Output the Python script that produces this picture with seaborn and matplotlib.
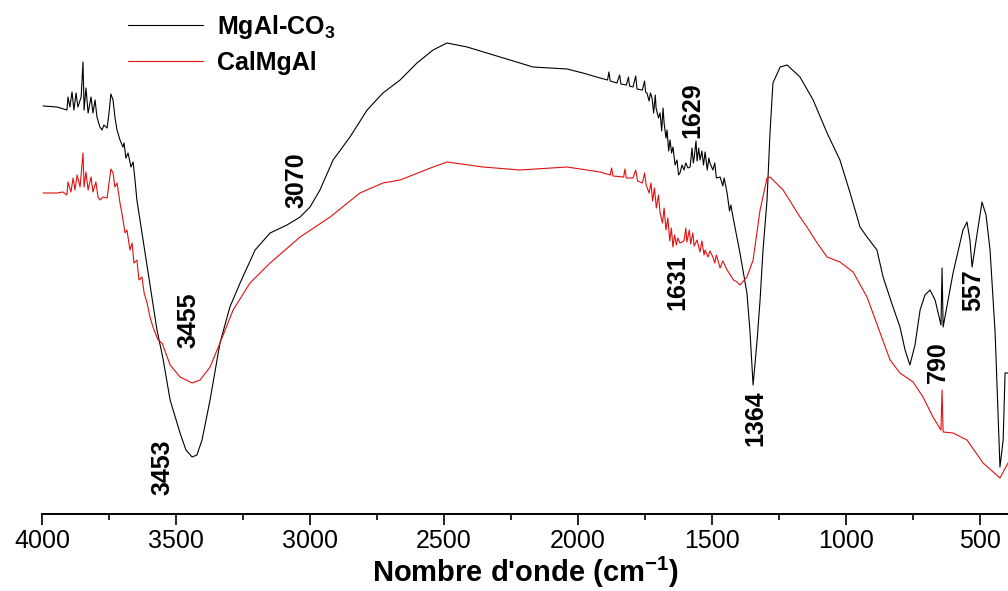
import seaborn as sns
import matplotlib
matplotlib.use("Agg")
import matplotlib.pyplot as plt
import pandas as pd

# FTIR spectra (wavenumber in cm-1, transmittance in a.u.)
mgal_wn = [3996, 3944, 3907, 3903, 3896, 3888, 3881, 3873, 3866, 3854, 3847, 3843, 3836, 3828,
           3817, 3810, 3802, 3795, 3784, 3776, 3769, 3757, 3750, 3743, 3735, 3728, 3720, 3709,
           3698, 3694, 3687, 3679, 3668, 3660, 3653, 3646, 3623, 3597, 3571, 3549, 3522, 3485,
           3463, 3440, 3422, 3403, 3373, 3336, 3299, 3261, 3205, 3149, 3086, 3037, 3000, 2963,
           2914, 2851, 2787, 2728, 2664, 2601, 2541, 2489, 2414, 2291, 2168, 2041, 1982, 1918,
           1890, 1885, 1880, 1855, 1845, 1840, 1820, 1812, 1808, 1795, 1785, 1780, 1760, 1752,
           1748, 1743, 1735, 1730, 1724, 1718, 1712, 1709, 1700, 1694, 1688, 1683, 1679, 1672,
           1668, 1662, 1657, 1651, 1646, 1638, 1631, 1625, 1620, 1612, 1605, 1598, 1590, 1582,
           1575, 1570, 1567, 1560, 1556, 1550, 1545, 1538, 1532, 1526, 1518, 1512, 1508, 1497,
           1490, 1484, 1470, 1460, 1455, 1444, 1435, 1430, 1422, 1396, 1370, 1359, 1347, 1332,
           1321, 1310, 1295, 1284, 1273, 1246, 1220, 1172, 1123, 1071, 1023, 985, 948, 922,
           885, 862, 825, 799, 780, 762, 743, 724, 706, 687, 668, 646, 642, 638, 601, 564, 549,
           538, 530, 512, 493, 478, 463, 444, 426, 414, 407, 396]
mgal_t = [407, 406, 403, 416, 406, 421, 403, 420, 406, 416, 451, 403, 425, 400,
          416, 400, 413, 396, 386, 383, 388, 385, 400, 419, 413, 396, 383, 373,
          366, 370, 355, 360, 346, 351, 333, 313, 273, 228, 183, 155, 113, 80,
          63, 56, 58, 73, 113, 170, 206, 230, 263, 280, 288, 296, 306, 323,
          353, 376, 403, 420, 433, 450, 463, 470, 466, 456, 446, 444, 440, 435,
          433, 441, 432, 430, 438, 429, 428, 436, 427, 426, 437, 424, 423, 432,
          421, 420, 412, 420, 415, 400, 418, 405, 395, 400, 382, 405, 390, 375,
          383, 362, 373, 360, 366, 348, 353, 338, 340, 348, 343, 350, 345, 346,
          365, 350, 355, 372, 352, 365, 353, 362, 348, 361, 343, 355, 350, 343,
          350, 335, 336, 327, 335, 320, 302, 308, 296, 260, 220, 183, 128, 173,
          213, 263, 313, 380, 430, 446, 448, 436, 413, 380, 353, 320, 286, 276,
          263, 236, 206, 186, 163, 148, 168, 203, 218, 223, 213, 188, 245, 186, 240, 283, 291,
          273, 246, 278, 311, 298, 263, 180, 46, 73, 140, 140]

cal_wn = [3996, 3944, 3922, 3907, 3903, 3892, 3884, 3877, 3869, 3858, 3847, 3843, 3836, 3828,
          3817, 3810, 3799, 3791, 3784, 3772, 3757, 3750, 3743, 3735, 3728, 3720, 3709, 3702,
          3690, 3683, 3672, 3664, 3657, 3646, 3638, 3627, 3619, 3608, 3597, 3586, 3567, 3552,
          3522, 3485, 3440, 3410, 3373, 3336, 3287, 3224, 3149, 3037, 2925, 2814, 2728, 2664,
          2541, 2489, 2355, 2217, 2041, 1918, 1880, 1875, 1870, 1830, 1825, 1820, 1795, 1785,
          1778, 1760, 1752, 1746, 1735, 1728, 1722, 1715, 1708, 1700, 1694, 1685, 1679, 1672,
          1665, 1658, 1652, 1646, 1640, 1633, 1628, 1620, 1605, 1598, 1594, 1585, 1580, 1572,
          1567, 1556, 1545, 1538, 1530, 1526, 1515, 1508, 1497, 1490, 1484, 1470, 1460, 1444,
          1420, 1407, 1396, 1370, 1347, 1321, 1295, 1284, 1235, 1172, 1146, 1108, 1071, 1023,
          974, 922, 873, 836, 799, 750, 713, 676, 646, 642, 638, 601, 549, 489, 426, 396]
cal_t = [320, 320, 321, 318, 331, 321, 335, 323, 338, 326, 360, 326, 341, 323,
         336, 321, 331, 316, 313, 316, 315, 330, 344, 340, 326, 330, 310, 300,
         280, 283, 263, 270, 250, 253, 233, 236, 220, 210, 196, 186, 173, 170,
         148, 136, 130, 133, 146, 170, 203, 230, 250, 276, 296, 320, 330, 333,
         346, 351, 346, 343, 346, 341, 338, 345, 337, 336, 344, 335, 335, 343,
         332, 330, 340, 328, 320, 330, 312, 325, 305, 318, 300, 290, 305, 283,
         295, 272, 285, 266, 278, 268, 275, 270, 272, 285, 271, 283, 269, 280,
         267, 273, 261, 272, 258, 263, 256, 262, 256, 250, 258, 245, 252, 243,
         233, 231, 228, 236, 253, 303, 335, 336, 323, 296, 286, 270, 256, 251,
         241, 216, 180, 153, 140, 131, 116, 96, 83, 123, 81, 80, 73, 50, 35, 50]

series_names = ["MgAl-CO$_3$", "CalMgAl"]
series_colors = ["black", "#e01010"]

peak_labels = ["3453", "3455", "3070", "1629", "1631", "1364", "790", "557"]
peak_x = [3549, 3455, 3049, 1575, 1631, 1340, 657, 526]
peak_y = [46, 193, 333, 403, 231, 95, 151, 223]

sns.set_style("ticks")
plt.rcParams["font.family"] = ["Liberation Sans", "DejaVu Sans"]
plt.rcParams["text.color"] = "black"
plt.rcParams["xtick.color"] = "black"
plt.rcParams["axes.edgecolor"] = "black"
plt.rcParams["mathtext.fontset"] = "custom"
plt.rcParams["mathtext.rm"] = "Liberation Sans"
plt.rcParams["mathtext.bf"] = "Liberation Sans:bold"
plt.rcParams["mathtext.default"] = "bf"

fig = plt.figure(figsize=(10.08, 5.91), dpi=100)
ax = fig.add_axes([42 / 1008, 77 / 591, 966 / 1008, 514 / 591])

df1 = pd.DataFrame({"wn": mgal_wn, "t": mgal_t})
df2 = pd.DataFrame({"wn": cal_wn, "t": cal_t})
sns.lineplot(data=df1, x="wn", y="t", color=series_colors[0], lw=0.8, ax=ax, label=series_names[0])
sns.lineplot(data=df2, x="wn", y="t", color=series_colors[1], lw=0.8, ax=ax, label=series_names[1])

for lab, px, py in zip(peak_labels, peak_x, peak_y):
    ax.text(px, py, lab, rotation=90, ha="center", va="center", fontsize=18,
            fontweight="bold", color="black")

ax.set_xlim(4000, 396)
ax.set_ylim(-1, 513)
ax.set_xticks([4000, 3500, 3000, 2500, 2000, 1500, 1000, 500])
ax.set_xticks([3750, 3250, 2750, 2250, 1750, 1250, 750], minor=True)
ax.set_yticks([])
ax.tick_params(axis="x", which="major", direction="out", length=8, width=1.2, labelsize=18,
               pad=3, colors="black")
ax.tick_params(axis="x", which="minor", direction="out", length=4, width=1.2, colors="black")
for s in ["left", "top", "right"]:
    ax.spines[s].set_visible(False)
ax.spines["bottom"].set_linewidth(1.4)
ax.set_ylabel("")
ax.set_xlabel("Nombre d'onde (cm$^{-1}$)", fontsize=21, fontweight="bold", labelpad=1,
              color="black")

leg = ax.legend(loc="upper left", bbox_to_anchor=(0.089, 0.975), frameon=False,
                fontsize=18, handlelength=3.0, handletextpad=0.55, labelspacing=0.4,
                borderpad=0, borderaxespad=0)
for t in leg.get_texts():
    t.set_fontweight("bold")
    t.set_color("black")

fig.savefig("out.png", dpi=100)
